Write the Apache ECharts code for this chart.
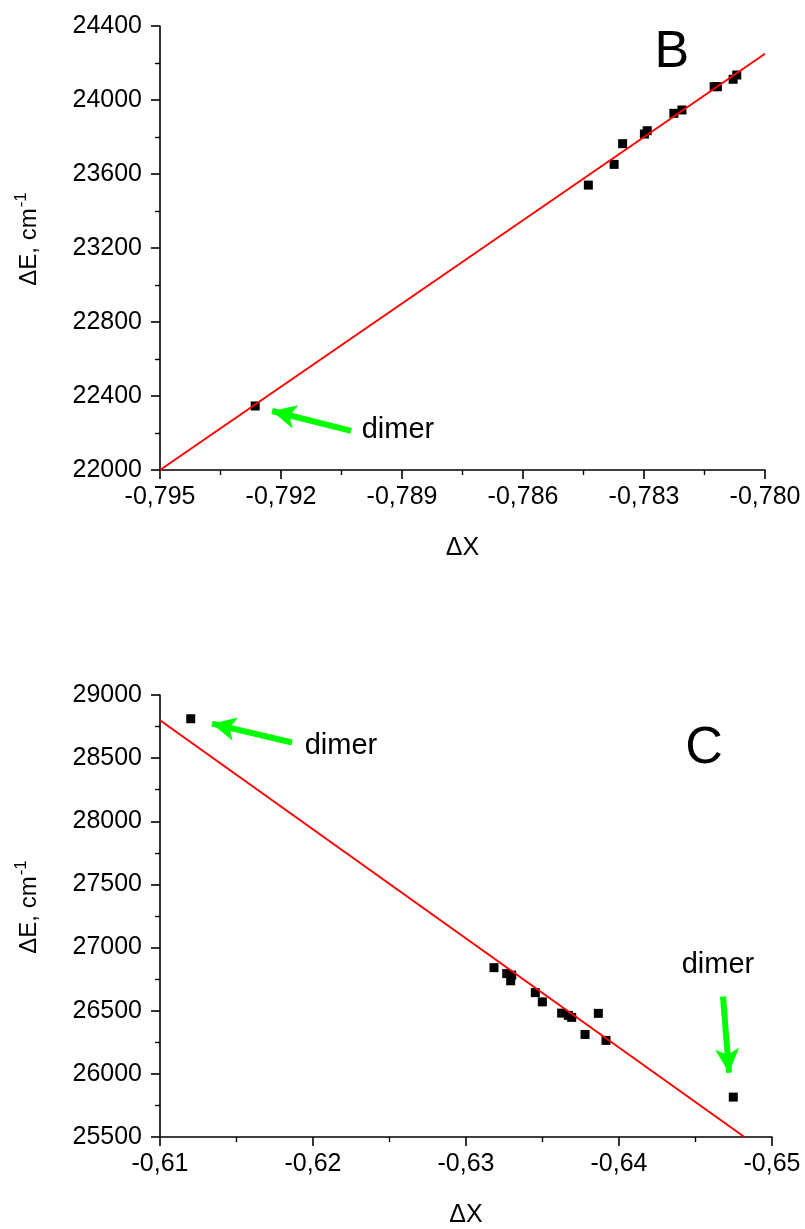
<!DOCTYPE html>
<html>
<head>
<meta charset="utf-8">
<script src="https://cdn.jsdelivr.net/npm/echarts@6/dist/echarts.min.js"></script>
<style>
html,body{margin:0;padding:0;background:#fff;}
#chart{width:805px;height:1229px;}
</style>
</head>
<body>
<div id="chart"></div>
<script>
// ---- Panel B data ----
var bX = [-0.79264, -0.78438, -0.78374, -0.78353, -0.78299, -0.78292, -0.78226, -0.78206, -0.78126, -0.78118, -0.78079, -0.78070];
var bY = [22346, 23540, 23652, 23764, 23816, 23834, 23928, 23946, 24072, 24072, 24112, 24135];
var bFitX = [-0.795, -0.780];
var bFitY = [22000, 24250];
var bXTicks = {min: -0.795, max: -0.780, interval: 0.003};
var bYTicks = {min: 22000, max: 24400, interval: 400};

// ---- Panel C data ----
var cX = [-0.61201, -0.63183, -0.63266, -0.63299, -0.63292, -0.63453, -0.63499, -0.63625, -0.63669, -0.63691, -0.63778, -0.63865, -0.63915, -0.64747];
var cY = [28812, 26841, 26794, 26782, 26737, 26643, 26570, 26481, 26463, 26447, 26312, 26479, 26265, 25816];
var cFitX = [-0.61, -0.6482];
var cFitY = [28800, 25500];
var cXTicks = {min: -0.65, max: -0.61, interval: 0.01};
var cYTicks = {min: 25500, max: 29000, interval: 500};

// ---- annotations (data coordinates) ----
var bArrow = [[-0.79026, 22211], [-0.79222, 22319]];
var bDimerText = [-0.78910, 22216];
var bLetter = [-0.78231, 24254];
var cArrow1 = [[-0.61863, 28624], [-0.61340, 28773]];
var cDimerText1 = [-0.62183, 28593];
var cArrow2 = [[-0.64680, 26612], [-0.64719, 26009]];
var cDimerText2 = [-0.64647, 26862];
var cLetter = [-0.64556, 28577];

function zip(a, b) { return a.map(function (v, i) { return [v, b[i]]; }); }

var FONT = '"Liberation Sans", Arial, sans-serif';
var FS = 25;
var axisLine = {show: true, onZero: false, lineStyle: {color: '#000', width: 1.6}};
var axisTick = {show: true, inside: false, length: 9, lineStyle: {color: '#000', width: 1.6}};
var minorTick = {show: true, splitNumber: 2, length: 5, lineStyle: {color: '#000', width: 1.4}};
var labelStyle = {color: '#000', fontSize: FS, fontFamily: FONT};

function yName() {
  return {
    name: '{a|ΔE, cm}{s|-1}',
    nameLocation: 'middle',
    nameGap: 114,
    nameRotate: 90,
    nameTextStyle: {
      rich: {
        a: {fontSize: 24, color: '#000', fontFamily: FONT, padding: [0, 1, 0, 18]},
        s: {fontSize: 17, color: '#000', fontFamily: FONT, verticalAlign: 'top', padding: [0, 0, 16, 0]}
      }
    }
  };
}

function textPoint(coord, txt, size) {
  return {
    coord: coord, value: txt, symbol: 'rect', symbolSize: 1,
    itemStyle: {color: 'rgba(0,0,0,0)'},
    label: {show: true, position: 'inside', formatter: txt, color: '#000', fontSize: size, fontFamily: FONT}
  };
}

function arrowLine(pair) {
  return [{coord: pair[0]}, {coord: pair[1]}];
}

var markLineBase = {
  silent: true, animation: false,
  symbol: ['none', 'arrow'], symbolSize: [18, 24],
  label: {show: false},
  lineStyle: {color: '#00ff00', width: 6, type: 'solid', opacity: 1},
  emphasis: {disabled: true}
};

var plainY = function (v) { return String(Math.round(v)); };

var option = {
  animation: false,
  backgroundColor: '#fff',
  grid: [
    {left: 160, top: 26, width: 605, height: 444},
    {left: 160, top: 695, width: 612, height: 447}
  ],
  xAxis: [
    {
      type: 'value', gridIndex: 0,
      min: bXTicks.min, max: bXTicks.max, interval: bXTicks.interval,
      name: 'ΔX', nameLocation: 'middle', nameGap: 66,
      nameTextStyle: {fontSize: FS, color: '#000', fontFamily: FONT},
      axisLine: axisLine, axisTick: axisTick, minorTick: minorTick,
      splitLine: {show: false}, minorSplitLine: {show: false},
      axisLabel: Object.assign({margin: 15, formatter: function (v) { return v.toFixed(3).replace('.', ','); }}, labelStyle)
    },
    {
      type: 'value', gridIndex: 1, inverse: true,
      min: cXTicks.min, max: cXTicks.max, interval: cXTicks.interval,
      name: 'ΔX', nameLocation: 'middle', nameGap: 66,
      nameTextStyle: {fontSize: FS, color: '#000', fontFamily: FONT},
      axisLine: axisLine, axisTick: axisTick, minorTick: minorTick,
      splitLine: {show: false}, minorSplitLine: {show: false},
      axisLabel: Object.assign({margin: 15, formatter: function (v) { return v.toFixed(2).replace('.', ','); }}, labelStyle)
    }
  ],
  yAxis: [
    Object.assign({
      type: 'value', gridIndex: 0,
      min: bYTicks.min, max: bYTicks.max, interval: bYTicks.interval,
      axisLine: axisLine, axisTick: axisTick, minorTick: minorTick,
      splitLine: {show: false}, minorSplitLine: {show: false},
      axisLabel: Object.assign({margin: 18, formatter: plainY}, labelStyle)
    }, yName()),
    Object.assign({
      type: 'value', gridIndex: 1,
      min: cYTicks.min, max: cYTicks.max, interval: cYTicks.interval,
      axisLine: axisLine, axisTick: axisTick, minorTick: minorTick,
      splitLine: {show: false}, minorSplitLine: {show: false},
      axisLabel: Object.assign({margin: 18, formatter: plainY}, labelStyle)
    }, yName())
  ],
  series: [
    {
      type: 'line', xAxisIndex: 0, yAxisIndex: 0, data: zip(bFitX, bFitY),
      showSymbol: false, symbol: 'none', lineStyle: {color: '#ff0000', width: 2}, silent: true,
      markLine: Object.assign({data: [arrowLine(bArrow)]}, markLineBase),
      markPoint: {silent: true, animation: false, data: [textPoint(bDimerText, 'dimer', 29), textPoint(bLetter, 'B', 52)]}
    },
    {
      type: 'scatter', xAxisIndex: 0, yAxisIndex: 0, data: zip(bX, bY),
      symbol: 'rect', symbolSize: 9, itemStyle: {color: '#000', opacity: 1}, silent: true
    },
    {
      type: 'line', xAxisIndex: 1, yAxisIndex: 1, data: zip(cFitX, cFitY),
      showSymbol: false, symbol: 'none', lineStyle: {color: '#ff0000', width: 2}, silent: true,
      markLine: Object.assign({data: [arrowLine(cArrow1), arrowLine(cArrow2)]}, markLineBase),
      markPoint: {silent: true, animation: false, data: [textPoint(cDimerText1, 'dimer', 29), textPoint(cDimerText2, 'dimer', 29), textPoint(cLetter, 'C', 52)]}
    },
    {
      type: 'scatter', xAxisIndex: 1, yAxisIndex: 1, data: zip(cX, cY),
      symbol: 'rect', symbolSize: 9, itemStyle: {color: '#000', opacity: 1}, silent: true
    }
  ]
};

var chart = echarts.init(document.getElementById('chart'), null, {renderer: 'canvas'});
chart.setOption(option);
</script>
</body>
</html>
